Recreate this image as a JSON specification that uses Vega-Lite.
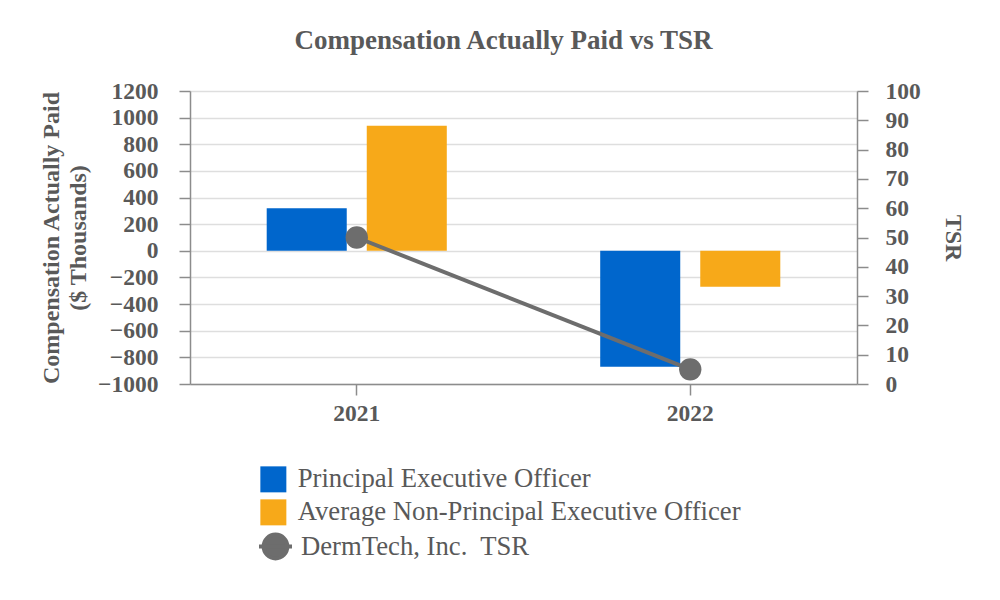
{
  "$schema": "https://vega.github.io/schema/vega-lite/v6.json",
  "width": 667,
  "height": 293,
  "autosize": {"type": "none"},
  "padding": {"left": 190, "top": 91, "right": 143, "bottom": 216},
  "background": "white",
  "title": {
    "text": "Compensation Actually Paid vs TSR",
    "font": "Liberation Serif",
    "fontSize": 27,
    "fontWeight": "bold",
    "color": "#595959",
    "offset": 24,
    "dx": -20
  },
  "config": {
    "view": {"stroke": null},
    "axis": {
      "labelFont": "Liberation Serif",
      "labelFontSize": 23.5,
      "labelFontWeight": "bold",
      "labelColor": "#595959",
      "titleFont": "Liberation Serif",
      "titleFontSize": 24,
      "titleFontWeight": "bold",
      "titleColor": "#595959",
      "domainColor": "#8c8c8c",
      "domainWidth": 1.5,
      "tickColor": "#8c8c8c",
      "tickWidth": 1.5,
      "tickSize": 11,
      "gridColor": "#dedede",
      "gridWidth": 1.5
    },
    "legend": {
      "labelFont": "Liberation Serif",
      "labelFontSize": 26.7,
      "labelColor": "#595959",
      "labelLimit": 800,
      "padding": 0,
      "titlePadding": 0
    }
  },
  "datasets": {
    "comp": [
      {"year": "2021", "series": "Principal Executive Officer", "value": 320},
      {"year": "2021", "series": "Average Non-Principal Executive Officer", "value": 940},
      {"year": "2022", "series": "Principal Executive Officer", "value": -870},
      {"year": "2022", "series": "Average Non-Principal Executive Officer", "value": -270}
    ],
    "tsr": [
      {"year": "2021", "series": "DermTech, Inc.\u00a0 TSR", "tsr": 50},
      {"year": "2022", "series": "DermTech, Inc.\u00a0 TSR", "tsr": 5}
    ]
  },
  "layer": [
    {
      "data": {"name": "comp"},
      "mark": {"type": "bar"},
      "encoding": {
        "x": {
          "field": "year",
          "type": "nominal",
          "scale": {"paddingInner": 0.46, "paddingOuter": 0.23},
          "axis": {"title": null, "labelAngle": 0, "labelPadding": 6, "grid": false}
        },
        "xOffset": {
          "field": "series",
          "type": "nominal",
          "sort": ["Principal Executive Officer", "Average Non-Principal Executive Officer"],
          "scale": {"paddingInner": 0.2, "paddingOuter": 0}
        },
        "y": {
          "field": "value",
          "type": "quantitative",
          "scale": {"domain": [-1000, 1200], "nice": false},
          "axis": {
            "title": ["Compensation Actually Paid", "($ Thousands)"],
            "values": [-1000, -800, -600, -400, -200, 0, 200, 400, 600, 800, 1000, 1200],
            "format": "d",
            "labelPadding": 21,
            "titlePadding": 7,
            "titleLineHeight": 27,
            "grid": true
          }
        },
        "color": {
          "field": "series",
          "type": "nominal",
          "sort": ["Principal Executive Officer", "Average Non-Principal Executive Officer"],
          "scale": {
            "domain": ["Principal Executive Officer", "Average Non-Principal Executive Officer"],
            "range": ["#0066cc", "#f7a919"]
          },
          "legend": {
            "title": null,
            "orient": "none",
            "legendX": 70,
            "legendY": 375,
            "symbolType": "square",
            "symbolSize": 676,
            "symbolStrokeWidth": 0,
            "labelOffset": 11,
            "rowPadding": 5
          }
        }
      }
    },
    {
      "data": {"name": "tsr"},
      "encoding": {
        "x": {"field": "year", "type": "nominal"},
        "y": {
          "field": "tsr",
          "type": "quantitative",
          "scale": {"domain": [0, 100], "nice": false},
          "axis": {
            "orient": "right",
            "title": "TSR",
            "values": [0, 10, 20, 30, 40, 50, 60, 70, 80, 90, 100],
            "grid": false,
            "labelPadding": 17,
            "titlePadding": 20
          }
        }
      },
      "layer": [
        {"mark": {"type": "line", "color": "#6d6d6d", "strokeWidth": 4}},
        {
          "mark": {"type": "point", "filled": true, "opacity": 1, "size": 500},
          "encoding": {
            "color": {
              "field": "series",
              "type": "nominal",
              "scale": {"range": ["#6d6d6d"]},
              "legend": {
                "title": null,
                "orient": "none",
                "legendX": 67,
                "legendY": 437,
                "symbolType": "M-1,0L1,0M-0.72,0A0.72,0.72,0,1,1,0.72,0A0.72,0.72,0,1,1,-0.72,0Z",
                "symbolSize": 1089,
                "symbolStrokeWidth": 4,
                "symbolStrokeColor": "#6d6d6d",
                "symbolFillColor": "#6d6d6d",
                "symbolOpacity": 1,
                "labelOffset": 7
              }
            }
          }
        }
      ]
    }
  ],
  "resolve": {"scale": {"y": "independent", "color": "independent"}}
}
